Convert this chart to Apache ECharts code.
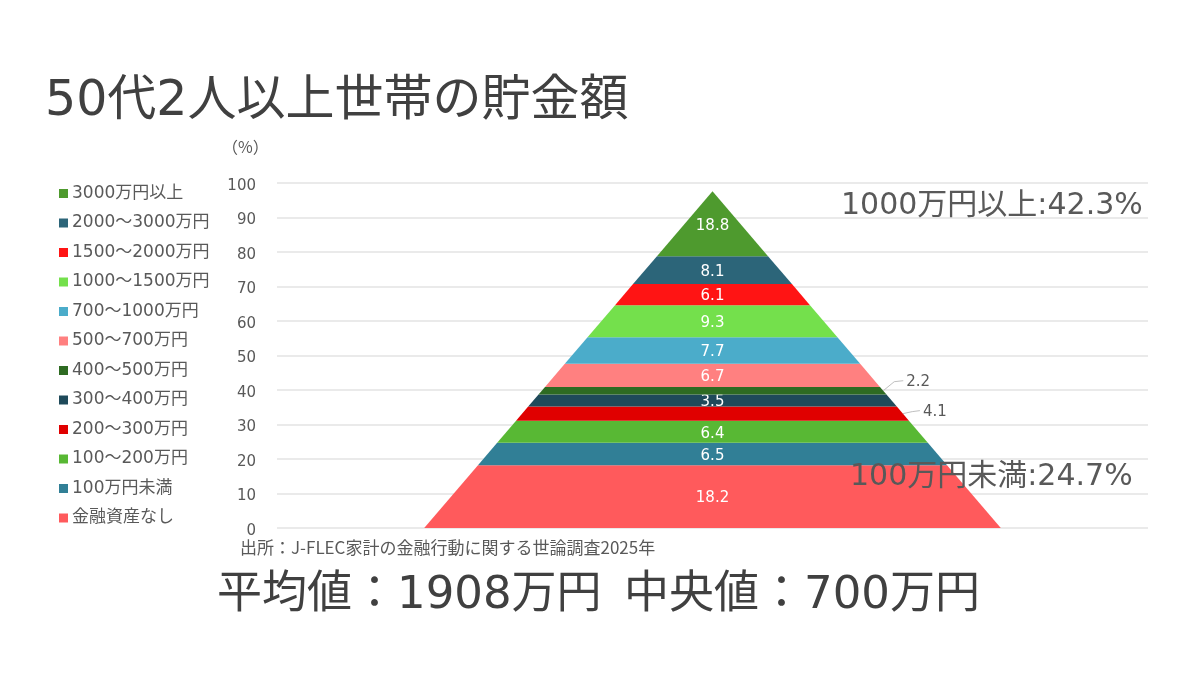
<!DOCTYPE html>
<html lang="ja">
<head>
    <meta charset="UTF-8">
    <title>50代2人以上世帯の貯金額</title>
    <script src="https://cdn.jsdelivr.net/npm/echarts@6/dist/echarts.min.js"></script>
    <style>
        html, body { margin: 0; padding: 0; background: #fff; }
    </style>
</head>
<body>
<div id="main" style="width: 1200px;height:675px;"></div>

<script type="text/javascript">
    // 下から順（金融資産なし → 3000万円以上）
    var categories = ['金融資産なし', '100万円未満', '100～200万円', '200～300万円', '300～400万円', '400～500万円',
        '500～700万円', '700～1000万円', '1000～1500万円', '1500～2000万円', '2000～3000万円', '3000万円以上'];
    var shares = [18.2, 6.5, 6.4, 4.1, 3.5, 2.2, 6.7, 7.7, 9.3, 6.1, 8.1, 18.8];
    var colors = ['#ff5a5c', '#317f96', '#58b834', '#e00000', '#1f4a5a', '#2e6b22',
        '#ff8080', '#4bacca', '#74e04c', '#ff1414', '#2c6579', '#4e9a2e'];
    var yTicks = [0, 100, 10];
    var summaryTop = '1000万円以上:42.3%';
    var summaryBottom = '100万円未満:24.7%';
    var stats = '平均値：1908万円\u2002中央値：700万円';
    var source = '出所：J-FLEC家計の金融行動に関する世論調査2025年';

    // 数字は幅の広い DejaVu、和文は Noto CJK
    var FONT = '"DejaVu Sans", "Noto Sans CJK JP", sans-serif';
    var JP = '"Noto Sans CJK JP", sans-serif';
    var GRAY = '#595959';
    var CENTER = 50;      // 三角形の中心（x軸の値）
    var BASE_HALF = 33.1; // 底辺の半分の幅（x軸の値）
    // 外側に出すラベルの引き出し線 [dx, dy]
    var leaders = { 3: [17, -3], 5: [20, -10] };

    var total = 0;
    var starts = [];
    for (var i = 0; i < shares.length; i++) {
        starts.push(total);
        total += shares[i];
    }

    function halfWidth(y) {
        return BASE_HALF * (total - y) / total;
    }

    function renderSeg(params, api) {
        var lo = api.value(0), hi = api.value(1), v = api.value(2);
        var idx = params.seriesIndex;
        var p1 = api.coord([CENTER - halfWidth(lo), lo]);
        var p2 = api.coord([CENTER + halfWidth(lo), lo]);
        var p3 = api.coord([CENTER + halfWidth(hi), hi]);
        var p4 = api.coord([CENTER - halfWidth(hi), hi]);
        var mid = (lo + hi) / 2;
        var children = [{
            type: 'polygon',
            shape: { points: [p1, p2, p3, p4] },
            style: { fill: colors[idx] }
        }];
        var lead = leaders[idx];
        if (lead) {
            var e = api.coord([CENTER + halfWidth(mid), mid]);
            var q = [e[0] + lead[0], e[1] + lead[1]];
            children.push({
                type: 'polyline',
                shape: { points: [e, [e[0] + lead[0] * 0.55, q[1] + 1], q] },
                style: { stroke: '#bfbfbf', lineWidth: 1, fill: null }
            });
            children.push({
                type: 'text',
                x: q[0] + 3, y: q[1] + 1.5,
                style: {
                    text: v.toFixed(1), fill: GRAY, font: '15px ' + FONT,
                    align: 'left', verticalAlign: 'middle'
                }
            });
        } else {
            var c = api.coord([CENTER, mid]);
            children.push({
                type: 'text',
                x: c[0], y: c[1] + 2,
                style: {
                    text: v.toFixed(1), fill: '#ffffff', font: '15px ' + FONT,
                    align: 'center', verticalAlign: 'middle'
                }
            });
        }
        return { type: 'group', children: children };
    }

    var series = [];
    for (var k = 0; k < categories.length; k++) {
        series.push({
            name: categories[k],
            type: 'custom',
            renderItem: renderSeg,
            itemStyle: { color: colors[k] },
            encode: { y: [0, 1] },
            data: [[starts[k], starts[k] + shares[k], shares[k]]],
            clip: false
        });
    }

    var myChart = echarts.init(document.getElementById('main'));
    var option = {
        backgroundColor: '#ffffff',
        animation: false,
        textStyle: { fontFamily: FONT },
        grid: { left: 277, right: 52, top: 183, bottom: 147 },
        legend: {
            orient: 'vertical',
            left: 54,
            top: 179,
            icon: 'rect',
            itemWidth: 9,
            itemHeight: 9,
            itemGap: 10.5,
            selectedMode: false,
            textStyle: { color: GRAY, fontSize: 17, lineHeight: 17, fontFamily: FONT, padding: [2, 0, 0, -1] },
            data: categories.slice().reverse()
        },
        xAxis: {
            type: 'value', min: 0, max: 100, show: false
        },
        yAxis: {
            type: 'value',
            min: yTicks[0], max: yTicks[1], interval: yTicks[2],
            axisLine: { show: false },
            axisTick: { show: false },
            axisLabel: {
                margin: 21,
                formatter: '{t|{value}}',
                rich: { t: { color: GRAY, fontSize: 15, fontFamily: FONT, padding: [6, 0, 0, 0] } }
            },
            splitLine: { lineStyle: { color: '#e3e3e3', width: 1.5 } }
        },
        graphic: [
            {
                type: 'text', left: 45, top: 78, z: 100,
                style: { text: '50代2人以上世帯の貯金額', fill: '#404040', font: '49px ' + FONT }
            },
            {
                type: 'text', left: 222, top: 139, z: 100,
                style: { text: '（%）', fill: GRAY, font: '16px ' + JP }
            },
            {
                type: 'text', left: 841, top: 191, z: 100,
                style: { text: summaryTop, fill: GRAY, font: '30px ' + FONT }
            },
            {
                type: 'text', left: 850, top: 462, z: 100,
                style: { text: summaryBottom, fill: GRAY, font: '30px ' + FONT }
            },
            {
                type: 'text', left: 240, top: 539, z: 100,
                style: { text: source, fill: GRAY, font: '17px ' + JP }
            },
            {
                type: 'text', left: 217, top: 574, z: 100,
                style: { text: stats, fill: '#404040', font: '45px ' + FONT }
            }
        ],
        series: series
    };
    myChart.setOption(option);
</script>
</body>
</html>
